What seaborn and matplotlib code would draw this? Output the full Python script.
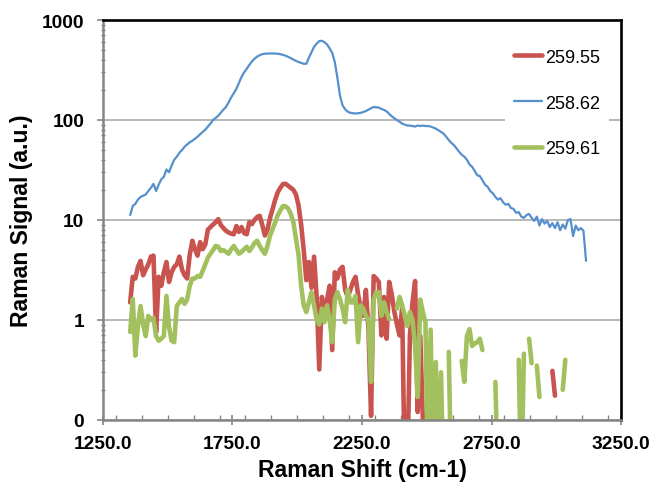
import numpy as np
import pandas as pd
import matplotlib
matplotlib.use("Agg")
import matplotlib.pyplot as plt
import seaborn as sns
from matplotlib.ticker import MultipleLocator, LogLocator, NullFormatter

plt.rcParams["font.family"] = ["Liberation Sans", "DejaVu Sans"]

nan = np.nan

# Raman shift grid (cm-1), one reading every 10 cm-1
shift = np.arange(1355, 3125, 10)

sig_25955 = [
    1.5, 2.7, 2.6, 3.4, 3.9, 2.8, 3.2, 3.6, 4.3, 4.4,
    0.75, 2.7, 2.2, 3.0, 3.8, 2.4, 3.0, 3.4, 3.6, 4.3,
    3.2, 2.8, 2.6, 4.5, 6.2, 5.1, 4.4, 6.0, 5.1, 5.7,
    8.0, 8.5, 9.0, 9.5, 10.2, 8.9, 8.3, 7.8, 7.5, 7.3,
    7.2, 8.7, 7.6, 8.5, 7.4, 7.2, 9.5, 9.1, 10.0, 10.7,
    11.0, 8.9, 7.0, 8.0, 10.5, 12.9, 16.0, 19.0, 21.0, 22.9,
    23.0, 22.0, 21.0, 20.0, 18.0, 14.0, 9.0, 5.0, 2.5, 3.8,
    2.1, 4.3, 1.7, 0.32, 1.7, 1.2, 1.6, 2.2, 0.5, 3.0,
    2.6, 3.2, 3.4, 2.0, 1.7, 2.0, 2.4, 2.7, 1.8, 1.3,
    1.1, 2.0, 0.8, 0.11, 2.75, 2.6, 2.4, 0.7, 1.7, 0.65,
    2.4, 1.8, 1.2, 0.9, 0.7, 1.3, 0.03, 0.03, 0.7, 1.5,
    2.45, 0.12, 0.69, 0.1, nan, nan, nan, nan, nan, nan,
    nan, nan, nan, nan, nan, nan, nan, nan, nan, nan,
    nan, nan, nan, nan, nan, nan, nan, nan, nan, nan,
    nan, nan, nan, nan, nan, nan, nan, nan, nan, nan,
    nan, nan, nan, nan, nan, nan, nan, nan, nan, nan,
    nan, nan, nan, 0.31, 0.175, nan, nan, nan, nan, nan,
    nan, nan, nan, nan, nan, nan, nan,
]

sig_25862 = [
    11.2, 13.8, 14.5, 16.0, 17.0, 17.5, 18.0, 19.5, 21.0, 23.0,
    19.5, 22.5, 25.5, 27.0, 32.0, 30.0, 35.0, 40.0, 43.0, 47.0,
    50.0, 54.0, 57.0, 60.0, 62.0, 65.0, 68.0, 72.0, 76.0, 80.0,
    86.0, 92.0, 100.0, 105.0, 110.0, 118.0, 127.0, 135.0, 150.0, 168.0,
    185.0, 205.0, 235.0, 270.0, 300.0, 325.0, 355.0, 385.0, 410.0, 430.0,
    445.0, 455.0, 460.0, 462.0, 463.0, 463.0, 462.0, 460.0, 455.0, 448.0,
    440.0, 428.0, 415.0, 403.0, 390.0, 380.0, 372.0, 365.0, 365.0, 420.0,
    475.0, 540.0, 580.0, 615.0, 620.0, 600.0, 570.0, 520.0, 470.0, 380.0,
    265.0, 175.0, 140.0, 128.0, 121.0, 118.0, 117.0, 116.0, 117.0, 118.0,
    120.0, 123.0, 127.0, 131.0, 135.0, 134.0, 133.0, 129.0, 126.0, 122.0,
    115.0, 109.0, 104.0, 100.0, 96.0, 92.0, 90.0, 88.0, 88.0, 87.0,
    86.0, 88.0, 87.0, 88.0, 87.0, 87.0, 86.0, 84.0, 82.0, 79.0,
    76.0, 73.0, 68.0, 63.0, 59.0, 56.0, 52.0, 48.0, 45.0, 43.0,
    40.0, 36.0, 34.0, 31.0, 28.0, 27.5, 25.0, 22.5, 21.5, 19.5,
    18.5, 17.0, 16.0, 16.5, 15.0, 14.2, 14.5, 13.2, 12.9, 11.8,
    12.0, 10.8, 10.5, 11.2, 11.5, 10.5, 9.8, 10.8, 8.8, 10.2,
    9.2, 9.8, 8.5, 9.3, 8.3, 9.5, 7.9, 9.0, 8.2, 10.0,
    10.2, 6.9, 8.8, 7.9, 8.3, 7.8, 3.9,
]

sig_25961 = [
    0.76, 1.62, 0.44, 0.87, 1.38, 0.9, 0.69, 1.1, 1.0, 1.05,
    0.69, 0.62, 0.65, 0.69, 1.74, 0.85, 0.62, 0.6, 1.38, 1.5,
    1.62, 1.45, 1.6, 2.2, 2.6, 2.6, 2.75, 2.7, 3.1, 3.6,
    4.2, 4.6, 5.0, 5.5, 5.4, 4.9, 5.0, 4.8, 4.6, 5.1,
    5.5, 5.0, 4.6, 4.8, 5.1, 5.4, 4.9, 5.3, 5.9, 6.2,
    5.5, 5.0, 4.6, 5.5, 7.0, 8.1, 9.5, 11.2, 12.5, 13.8,
    13.7, 13.0, 11.5, 9.5, 6.5, 4.5, 2.2, 1.4, 1.2, 1.5,
    1.9, 1.4, 1.0, 0.9, 1.3, 0.95, 1.4, 1.0, 0.6, 1.6,
    1.9, 1.6, 1.3, 0.95, 2.0, 1.5, 1.5, 1.74, 0.6, 1.4,
    1.3, 1.1, 1.0, 0.24, 1.6, 1.9, 1.9, 1.1, 1.5, 1.2,
    1.02, nan, nan, 1.3, 1.7, 1.4, 1.1, 0.87, 1.2, 1.0,
    0.55, 0.17, 1.6, 1.2, 0.95, 0.02, 0.8, 0.02, 0.38, 0.02,
    0.3, 0.02, nan, 0.48, 0.02, nan, nan, nan, 0.39, 0.24,
    0.69, 0.81, 0.55, 0.58, 0.6, 0.65, 0.5, nan, nan, nan,
    nan, 0.24, 0.02, nan, nan, nan, nan, nan, nan, nan,
    0.4, 0.02, 0.46, nan, 0.65, 0.37, nan, 0.35, 0.17, nan,
    nan, nan, nan, nan, nan, nan, nan, 0.2, 0.4, nan,
    nan, nan, nan, nan, nan, nan, nan,
]

series_names = ["259.55", "258.62", "259.61"]
series_values = [sig_25955, sig_25862, sig_25961]

RED = "#C9534E"
BLUE = "#5690CC"
GREEN = "#A2C15E"
palette = {"259.55": RED, "258.62": BLUE, "259.61": GREEN}
widths = {"259.55": 3.3, "258.62": 1.6, "259.61": 3.3}

# long table, split into unbroken runs so gaps stay open on the log axis
frames = []
for name, vals in zip(series_names, series_values):
    v = np.asarray(vals, dtype=float)
    seg = np.cumsum(np.isnan(v))
    d = pd.DataFrame({"shift": shift, "signal": v, "series": name,
                      "unit": [f"{name}_{s}" for s in seg]})
    frames.append(d.dropna())
df = pd.concat(frames, ignore_index=True)

fig = plt.figure(figsize=(6.58, 4.85), dpi=100)
ax = fig.add_axes([0.1565, 0.132, 0.7873, 0.8247])

sns.lineplot(data=df, x="shift", y="signal", hue="series", size="series",
             units="unit", estimator=None, hue_order=series_names,
             size_order=series_names, palette=palette, sizes=widths,
             solid_capstyle="round", solid_joinstyle="round", ax=ax)

ax.set_yscale("log")
ax.set_ylim(0.1, 1000)
ax.set_yticks([0.1, 1, 10, 100, 1000])
ax.set_yticklabels(["0", "1", "10", "100", "1000"])
ax.yaxis.set_minor_locator(LogLocator(base=10, subs=np.arange(2, 10)))
ax.yaxis.set_minor_formatter(NullFormatter())

ax.set_xlim(1250, 3250)
xt = [1250, 1750, 2250, 2750, 3250]
ax.set_xticks(xt)
ax.set_xticklabels([f"{t:.1f}" for t in xt])
ax.xaxis.set_minor_locator(MultipleLocator(100))

for lab in ax.get_xticklabels() + ax.get_yticklabels():
    lab.set_fontsize(13.8)
    lab.set_fontweight("bold")

GREYAX = "#858585"
ax.tick_params(axis="x", which="major", direction="inout", length=7, width=1.2,
               color=GREYAX, pad=7)
ax.tick_params(axis="x", which="minor", direction="in", length=3.5, width=1.0,
               color=GREYAX)
ax.tick_params(axis="y", which="major", direction="out", length=4.5, width=1.2,
               color=GREYAX, pad=9)
ax.tick_params(axis="y", which="minor", direction="inout", length=3.5, width=1.0,
               color=GREYAX)

ax.yaxis.grid(True, which="major", color="#A6A6A6", linewidth=1.1)
ax.set_axisbelow(True)

for side in ["left", "bottom"]:
    ax.spines[side].set_color(GREYAX)
    ax.spines[side].set_linewidth(1.8)
for side in ["top", "right"]:
    ax.spines[side].set_color("black")
    ax.spines[side].set_linewidth(1.9)

ax.set_xlabel("Raman Shift (cm-1)", fontsize=16.6, fontweight="bold")
ax.set_ylabel("Raman Signal (a.u.)", fontsize=16.6, fontweight="bold")
ax.xaxis.set_label_coords(0.5, -0.095)
ax.yaxis.set_label_coords(-0.135, 0.5)

handles, labels = ax.get_legend_handles_labels()
keep = [(h, l) for h, l in zip(handles, labels) if l in series_names]
ax.legend([h for h, _ in keep], [l for _, l in keep],
          loc="upper left", bbox_to_anchor=(0.776, 0.951), borderaxespad=0,
          borderpad=0.5, labelspacing=1.6, handlelength=1.55,
          handletextpad=0.15, fontsize=13, frameon=True, framealpha=1,
          facecolor="white", edgecolor="none", fancybox=False)

fig.savefig("out.png", dpi=100)
plt.close(fig)
